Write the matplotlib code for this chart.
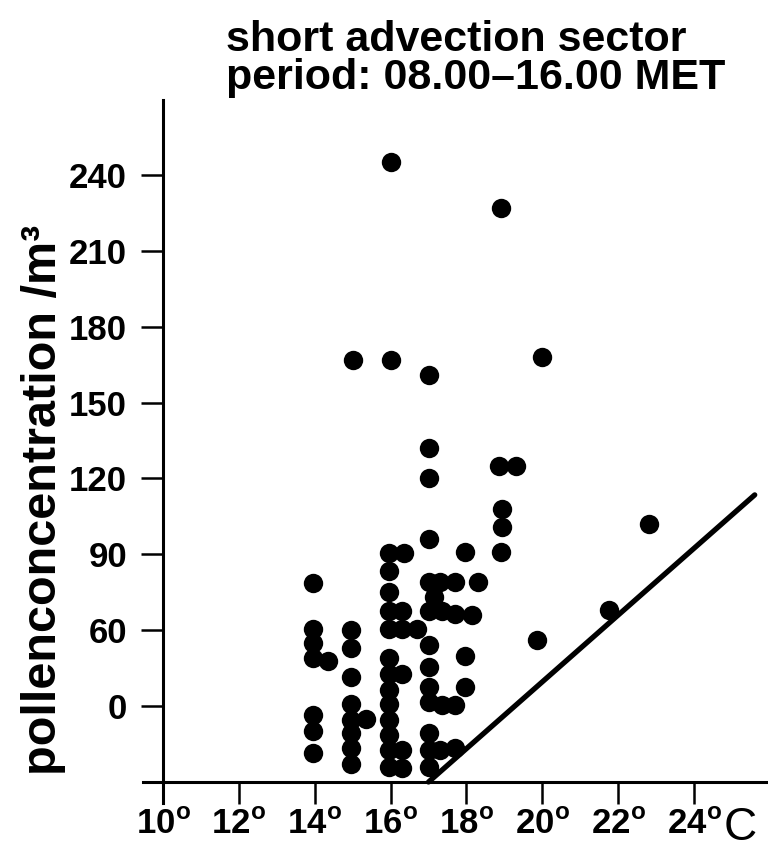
import numpy as np
import matplotlib.pyplot as plt

plt.rcParams['font.family'] = ['Liberation Sans', 'DejaVu Sans']
plt.rcParams['mathtext.fontset'] = 'custom'
plt.rcParams['mathtext.rm'] = 'Liberation Sans'
plt.rcParams['mathtext.bf'] = 'Liberation Sans:bold'

# temperatura (graus C) e concentracao de polen
temp = [16.0, 18.9, 15.0, 16.0, 17.0, 20.0, 17.0, 17.0, 18.85, 19.3, 18.95, 18.95,
        18.9, 17.0, 22.8, 19.85, 21.75,
        17.95, 18.3, 17.95, 17.95, 18.15, 17.7, 17.35,
        17.0, 17.3, 17.7, 17.15, 17.0, 17.0, 17.0, 17.0, 17.0, 17.35, 17.7,
        17.0, 17.0, 17.3, 17.7, 17.0,
        15.95, 16.35, 15.95, 15.95, 15.95, 16.3, 15.95, 16.3, 16.7, 15.95, 15.95,
        16.3, 15.95, 15.95, 15.95, 15.95, 15.95, 16.3, 15.95, 16.3,
        14.95, 14.95, 14.95, 14.95, 14.95, 15.35, 14.95, 14.95, 14.95,
        13.95, 13.95, 13.95, 13.95, 14.35, 13.95, 13.95, 13.95]
conc = [245, 227, 167, 167, 161, 168, 132, 120, 125, 125, 108, 101,
        91, 96, 102, 56, 68,
        91, 79, 50, 37.5, 66, 66.5, 67.5,
        79, 79, 79, 73, 67.5, 54, 45.5, 37.5, 31.5, 30.5, 30.5,
        19.5, 12.5, 12.5, 13.5, 6,
        90.5, 90.5, 83.5, 75, 67.5, 67.5, 60.5, 60.5, 60.5, 49, 42.5,
        42.5, 36.5, 31, 24.5, 18.5, 12.5, 12.5, 6, 5.5,
        60, 53, 41.5, 31, 24.5, 25, 19.5, 13.5, 7,
        78.5, 60.5, 55, 49, 48, 26.5, 20, 11.5]

# reta limite
line_x = [17.0, 25.6]
line_y = [0.0, 113.5]

x_ticks = [10, 12, 14, 16, 18, 20, 22, 24]
y_ticks = [30, 60, 90, 120, 150, 180, 210, 240]
y_labels = ['0', '60', '90', '120', '150', '180', '210', '240']

fig = plt.figure(figsize=(7.68, 8.49), dpi=100)
ax = fig.add_axes([143 / 768, 46 / 849, 625 / 768, 703 / 849])

ax.scatter(temp, conc, s=195, color='black', linewidths=0, zorder=3)
ax.plot(line_x, line_y, color='black', linewidth=3.8, solid_capstyle='round')

ax.set_xlim(9.473, 25.95)
ax.set_ylim(-8.3, 269.6)

# eixos
for side in ['top', 'right']:
    ax.spines[side].set_visible(False)
ax.spines['left'].set_position(('data', 10))
ax.spines['bottom'].set_position(('data', 0))
ax.spines['left'].set_linewidth(2.2)
ax.spines['bottom'].set_linewidth(2.2)

ax.set_yticks(y_ticks)
ax.set_yticklabels(y_labels, fontsize=25, fontweight='bold')
ax.set_xticks(x_ticks)
ax.set_xticklabels([f'{v}' + r'$^{\mathbf{o}}$' for v in x_ticks],
                   fontsize=25, fontweight='bold')
ax.tick_params(axis='both', direction='out', length=16, width=1.8)
ax.tick_params(axis='y', pad=10)
ax.tick_params(axis='x', pad=3)

fig.text(724 / 768, (849 - 840) / 849, 'C', fontsize=33, ha='left', va='baseline')

fig.text(44 / 768, (849 - 500) / 849, 'pollenconcentration /m³', rotation=90,
         fontsize=35, fontweight='bold', ha='center', va='center')

fig.text(456 / 768, (849 - 51) / 849, 'short advection sector', fontsize=31,
         fontweight='bold', ha='center', va='baseline')
fig.text(476 / 768, (849 - 89) / 849, 'period: 08.00–16.00 MET', fontsize=31,
         fontweight='bold', ha='center', va='baseline')

fig.savefig('out.png', dpi=100)
